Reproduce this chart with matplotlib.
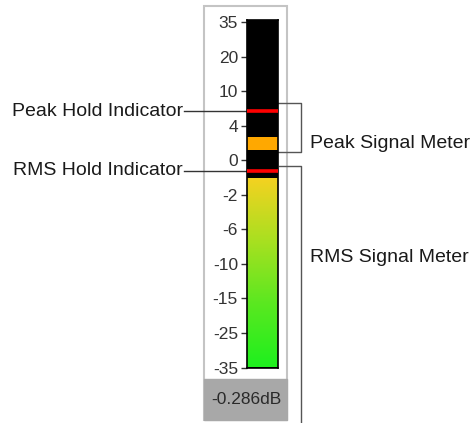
import numpy as np
import matplotlib
matplotlib.use("Agg")
import matplotlib.pyplot as plt
from matplotlib.patches import Rectangle
from matplotlib.colors import LinearSegmentedColormap

# ---- data ----
tick_db = [35, 20, 10, 4, 0, -2, -6, -10, -15, -25, -35]
peak_hold_db = 6.5
peak_segment_db = (1.2, 2.7)
rms_hold_db = -0.6
rms_level_db = -1.1
readout_text = "-0.286dB"
labels_left = ["Peak Hold Indicator", "RMS Hold Indicator"]
labels_right = ["Peak Signal Meter", "RMS Signal Meter"]

W, H = 472, 423
fig = plt.figure(figsize=(W / 100, H / 100), dpi=100)
plt.rcParams['font.family'] = ['Liberation Sans', 'DejaVu Sans']

# scale: meter ticks are equally spaced
asc_db = np.array(tick_db[::-1], dtype=float)
asc_pos = np.arange(len(asc_db), dtype=float)
def pos(db):
    return np.interp(db, asc_db, asc_pos)

# background axes in pixel coords
bg = fig.add_axes([0, 0, 1, 1])
bg.set_xlim(0, W)
bg.set_ylim(H, 0)
bg.axis('off')

# panel
bg.add_patch(Rectangle((203.5, 6.5), 83, 414, fill=False, ec='#c4c4c4', lw=1.5))
bg.add_patch(Rectangle((203.5, 379), 83, 41.5, fc='#a8a8a8', ec='#a8a8a8', lw=1))
bg.text(246, 400, readout_text, ha='center', va='center', fontsize=12.5, color='#2a2a2a')

# meter axes
top_px, bot_px = 20.5, 367.5
left_px, right_px = 247, 277.5
meter = fig.add_axes([left_px / W, (H - bot_px) / H, (right_px - left_px) / W, (bot_px - top_px) / H])
meter.set_facecolor('black')
meter.set_xlim(0, 1)
meter.set_ylim(0, 10.05)
meter.set_yticks(pos(np.array(tick_db, dtype=float)))
meter.set_yticklabels([str(t) for t in tick_db])
meter.set_xticks([])
meter.tick_params(axis='y', length=4.5, width=1, color='#333333', pad=2, labelsize=12.5, labelcolor='#333333')
for s in meter.spines.values():
    s.set_color('black')
    s.set_linewidth(1.2)

# RMS gradient bar
cmap = LinearSegmentedColormap.from_list('rms', ['#1ef01e', '#5ae820', '#a8e020', '#f4d220'])
grad = np.linspace(0, 1, 256).reshape(-1, 1)
meter.imshow(grad, cmap=cmap, origin='lower', aspect='auto',
             extent=[0, 1, pos(-35), pos(rms_level_db)], zorder=1)
# peak segment (orange)
meter.bar(0.5, pos(peak_segment_db[1]) - pos(peak_segment_db[0]), bottom=pos(peak_segment_db[0]),
          width=1, color='#ffa800', zorder=2)
# hold indicators
meter.axhline(pos(peak_hold_db), color='#ff0000', lw=2.6, zorder=3)
meter.axhline(pos(rms_hold_db), color='#ff0000', lw=2.6, zorder=3)
meter.set_xlim(0, 1)
meter.set_ylim(0, 10.05)

# annotation lines to hold indicators
fig.canvas.draw()
def ypx(db):
    return H - meter.transData.transform((0, pos(db)))[1]

for lab, db in zip(labels_left, [peak_hold_db, rms_hold_db]):
    y = ypx(db)
    bg.plot([184, left_px], [y, y], color='#333333', lw=1)
    bg.text(183, y, lab, ha='right', va='center', fontsize=14, color='#1a1a1a')

# brackets
bg.plot([278, 301, 301, 278], [103, 103, 152, 152], color='#555555', lw=1)
bg.plot([279, 301, 301], [166, 166, 423], color='#555555', lw=1)
bg.text(310, 144, labels_right[0], ha='left', va='center', fontsize=14, color='#1a1a1a')
bg.text(310, 258, labels_right[1], ha='left', va='center', fontsize=14, color='#1a1a1a')

fig.savefig('out.png', dpi=100)
